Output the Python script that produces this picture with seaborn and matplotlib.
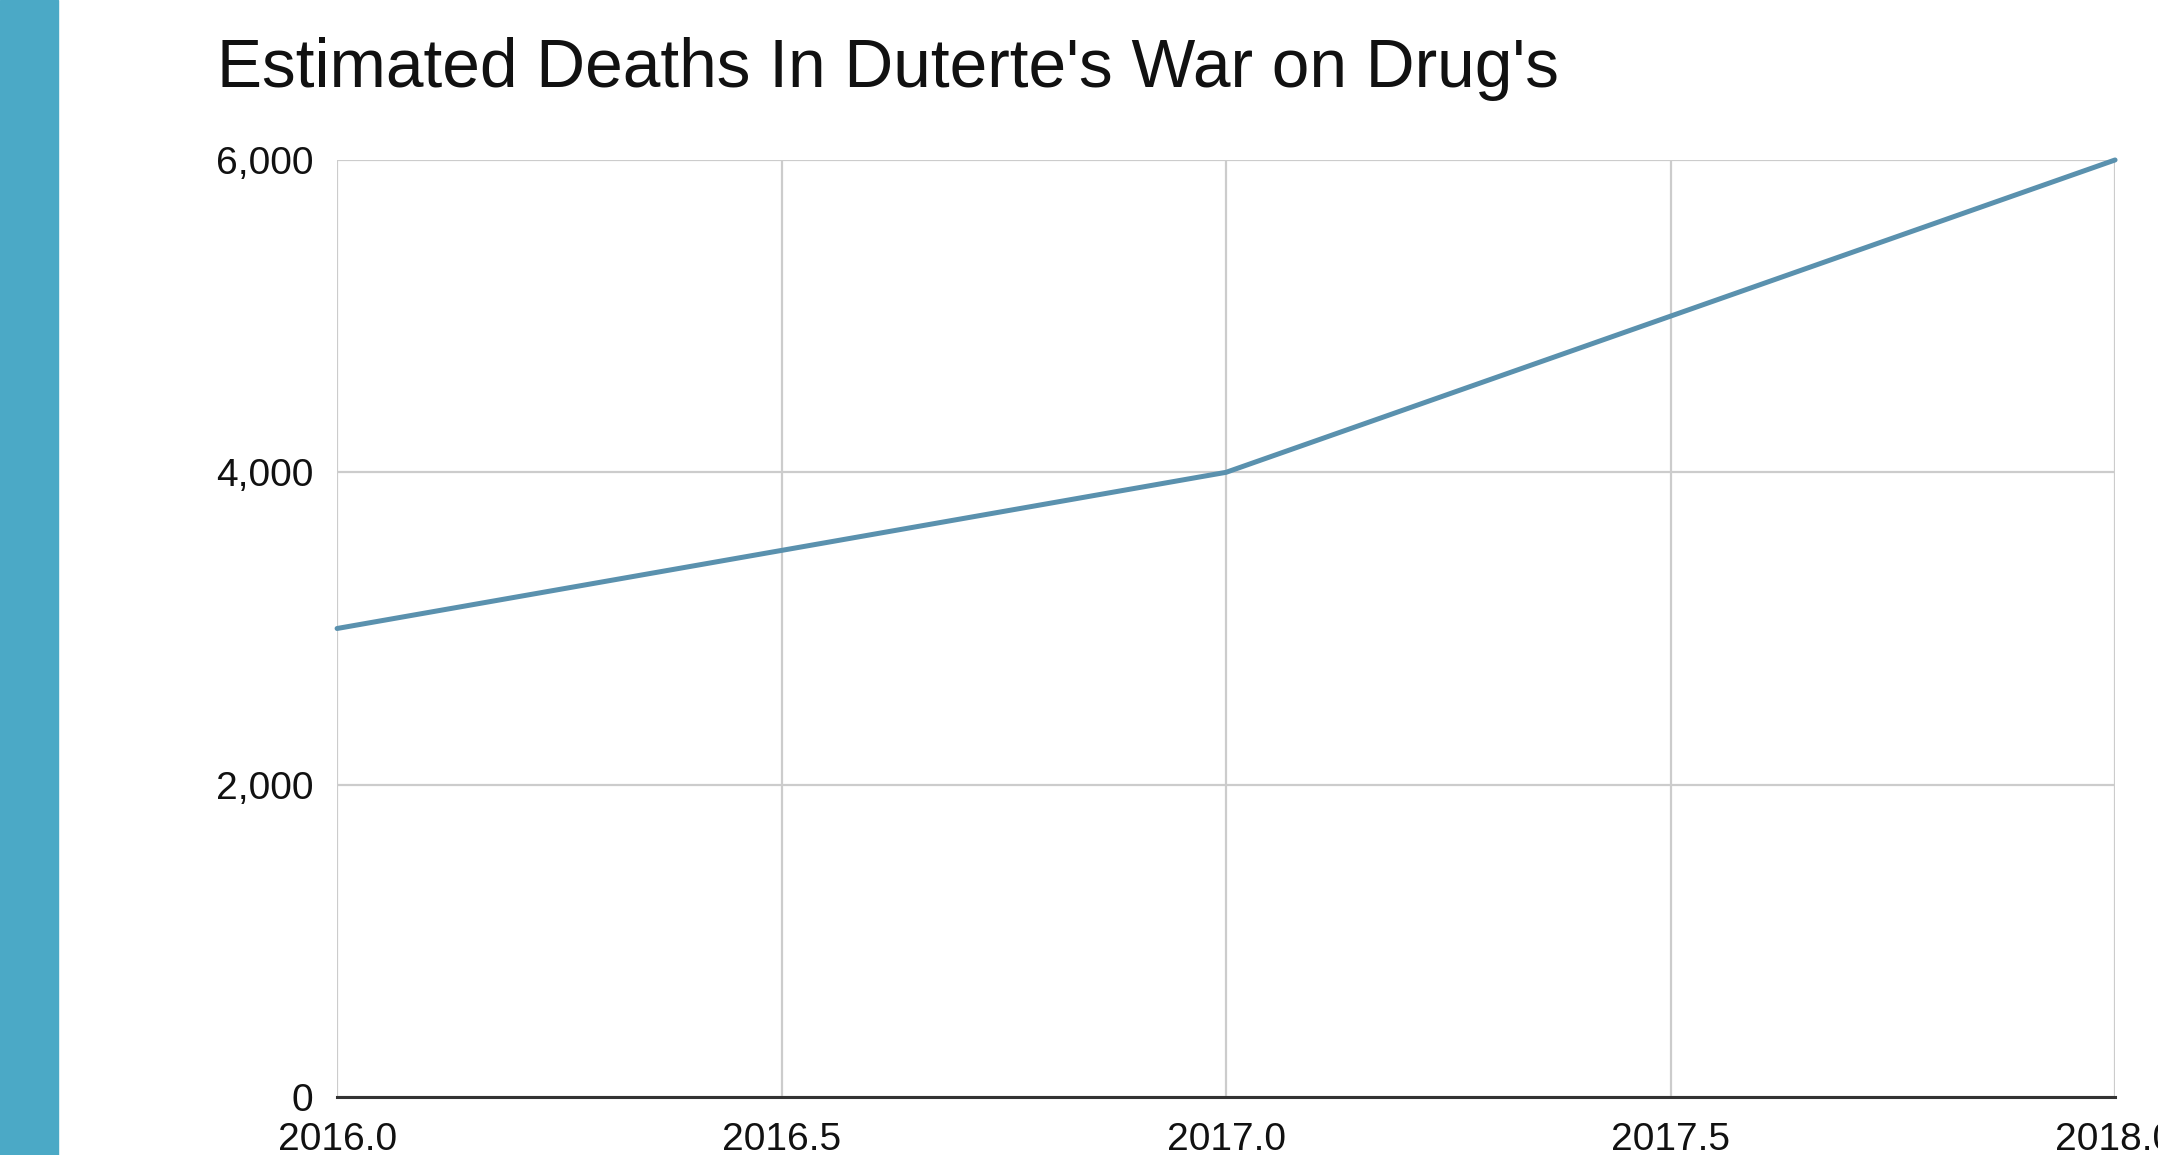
import matplotlib
matplotlib.use("Agg")
import matplotlib.pyplot as plt
import matplotlib.ticker as mticker
import seaborn as sns
import pandas as pd
from matplotlib.patches import Rectangle

# data
years = [2016.0, 2016.5, 2017.0, 2017.5, 2018.0]
deaths = [3000, 3500, 4000, 5000, 6000]
x_ticks = [2016.0, 2016.5, 2017.0, 2017.5, 2018.0]
y_ticks = [0, 2000, 4000, 6000]
title = "Estimated Deaths In Duterte's War on Drug's"

df = pd.DataFrame({"year": years, "deaths": deaths})

sns.set_style("white")
plt.rcParams["font.family"] = ["Liberation Sans", "DejaVu Sans"]

fig = plt.figure(figsize=(21.58, 11.55), dpi=100)
ax = fig.add_axes([0.1562, 0.0502, 0.8239, 0.8113])

# teal strip on the left edge
fig.patches.append(Rectangle((0, 0), 0.0269, 1, transform=fig.transFigure,
                             color="#4BA9C6", zorder=0))

sns.lineplot(data=df, x="year", y="deaths", ax=ax, color="#5A91AE",
             linewidth=3.6, clip_on=False, zorder=3)

ax.set_xlim(2016.0, 2018.0)
ax.set_ylim(0, 6000)
ax.set_xticks(x_ticks)
ax.set_yticks(y_ticks)
ax.xaxis.set_major_formatter(mticker.FormatStrFormatter("%.1f"))
ax.yaxis.set_major_formatter(mticker.FuncFormatter(lambda v, p: f"{int(v):,}"))
ax.grid(True, color="#CCCCCC", linewidth=1.6)
ax.set_axisbelow(True)
for side in ["top", "right", "left"]:
    ax.spines[side].set_visible(False)
ax.spines["bottom"].set_color("#333333")
ax.spines["bottom"].set_linewidth(2.2)
ax.spines["bottom"].set_zorder(4)
ax.tick_params(axis="both", length=0, labelsize=28, labelcolor="#111111")
ax.tick_params(axis="y", pad=17)
ax.tick_params(axis="x", pad=18)
ax.set_xlabel("")
ax.set_ylabel("")

fig.text(0.1006, 0.925, title, fontsize=48.7, ha="left", va="baseline",
         color="#111111")

fig.savefig("out.png", dpi=100, facecolor="white")
